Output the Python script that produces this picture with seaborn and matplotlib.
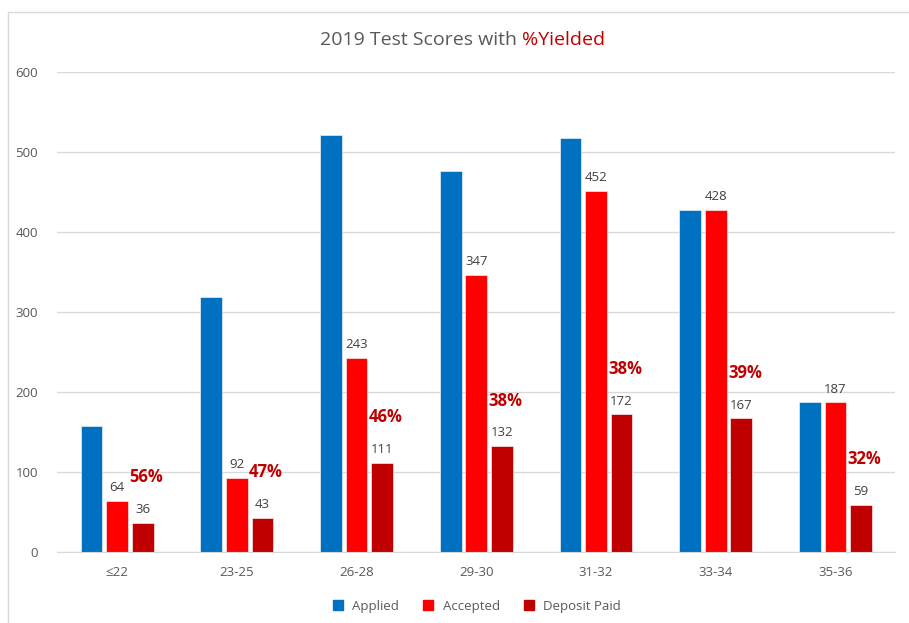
import pandas as pd
import numpy as np
import seaborn as sns
import matplotlib.pyplot as plt
from matplotlib.lines import Line2D
from matplotlib.patches import Rectangle

# values
scores = ["≤22", "23-25", "26-28", "29-30", "31-32", "33-34", "35-36"]
applied = [157, 319, 522, 477, 518, 428, 187]
accepted = [64, 92, 243, 347, 452, 428, 187]
deposit = [36, 43, 111, 132, 172, 167, 59]

series = ["Applied", "Accepted", "Deposit Paid"]
colors = ["#0070C0", "#FF0000", "#C00000"]

data = pd.DataFrame({"Score": scores * 3,
                     "Count": applied + accepted + deposit,
                     "Type": np.repeat(series, len(scores))})

sns.set_style("white")
plt.rcParams["font.family"] = ["Open Sans", "DejaVu Sans"]

fig = plt.figure(figsize=(9.09, 6.23), dpi=100)
ax = fig.add_axes([0.063, 0.114, 0.922, 0.770])

sns.barplot(data=data, x="Score", y="Count", hue="Type", palette=colors,
            saturation=1, width=0.64, gap=0.15, ax=ax, legend=False,
            edgecolor="white", linewidth=0.4)

ax.set_ylim(0, 600)
ax.set_xlim(-0.5, len(scores) - 0.5)
ax.set_yticks(range(0, 601, 100))
ax.yaxis.grid(True, color="#D9D9D9", linewidth=1)
ax.set_axisbelow(True)
ax.set_xlabel("")
ax.set_ylabel("")
for s in ["top", "right", "left"]:
    ax.spines[s].set_visible(False)
ax.spines["bottom"].set_color("#D9D9D9")
ax.tick_params(axis="both", length=0, labelsize=9.5, labelcolor="#595959")
ax.tick_params(axis="x", pad=10)
ax.tick_params(axis="y", pad=14)

# value labels on accepted + deposit bars
for cont, vals in zip(ax.containers[1:], [accepted, deposit]):
    for bar, v in zip(cont, vals):
        ax.annotate(str(v), (bar.get_x() + bar.get_width() / 2, v),
                    xytext=(0, 5), textcoords="offset points",
                    ha="center", va="bottom", fontsize=9.5, color="#404040")

# yield percentages above the deposit labels
for bar, a, d in zip(ax.containers[2], accepted, deposit):
    ax.annotate(f"{round(d / a * 100)}%", (bar.get_x() + bar.get_width() / 2 + 0.03, d),
                xytext=(0, 33), textcoords="offset points",
                ha="center", va="center", fontsize=12, fontweight="bold",
                color="#C00000")

# two-colour title
t1 = fig.text(0.574, 0.935, "2019 Test Scores with ", ha="right", va="center",
              fontsize=14, color="#595959")
ax.annotate("%Yielded", xy=(1, 0), xycoords=t1, ha="left", va="bottom",
            fontsize=14, color="#C00000", annotation_clip=False)

handles = [Line2D([], [], marker="s", linestyle="", markersize=7, color=c) for c in colors]
fig.legend(handles, series, loc="center", bbox_to_anchor=(0.52, 0.027), ncol=3,
           frameon=False, fontsize=9.5, labelcolor="#595959",
           handletextpad=0.1, columnspacing=1.2)

fig.patches.append(Rectangle((0.009, -0.05), 1.05, 1.031, transform=fig.transFigure,
                             fill=False, edgecolor="#D9D9D9", linewidth=1))

plt.savefig("out.png", dpi=100)
